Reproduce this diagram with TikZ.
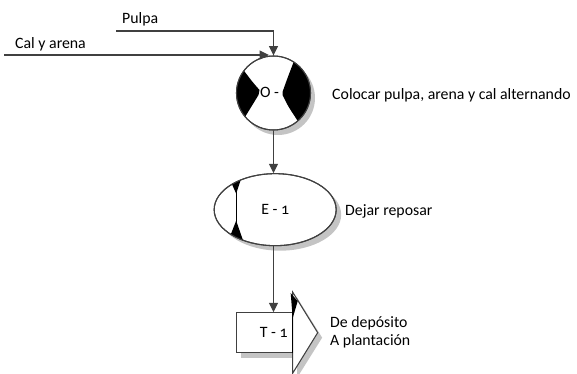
\documentclass[tikz,border=0pt]{standalone}
\usepackage{fontspec}
\setmainfont{Carlito}[Numbers=OldStyle]
\usetikzlibrary{positioning,calc,arrows.meta,shapes.geometric}
\definecolor{linegray}{HTML}{404040}
\definecolor{shadegray}{HTML}{C4C4C4}

\begin{document}
\begin{tikzpicture}[x=0.03cm,y=-0.03cm,node distance=0.2cm,on grid,
  flow/.style={draw=linegray,line width=1pt,-{Triangle[length=0.28cm,width=0.27cm]}},
  box/.style={draw=linegray,line width=0.9pt,fill=white,inner sep=0pt},
  txt/.style={anchor=west,align=left,inner sep=0pt}]
\useasboundingbox (0,0) rectangle (577,374);
\tikzset{every node/.append style={font=\fontsize{13.5}{15.5}\selectfont}}
% operacion
\fill[shadegray] (278,98) circle (1.11cm);
\node[box,circle,minimum size=2.22cm](q_o) at (273.5,93){};
\begin{scope}[shift={(q_o.center)}]
\fill[black] (217:37) .. controls (-21,-11) .. (-14,-3) -- (-15,2) .. controls (-22,12) .. (140:37) arc (140:217:37);
\fill[black] (-57:37) .. controls (14,-15) .. (9,-1) -- (9,2) .. controls (15,14) .. (49:37) arc (49:-57:37);
\end{scope}
\draw[linegray,line width=0.9pt] (q_o.center) circle (1.11cm);
\node(o_lbl) at ($(q_o.center)+(-4,-1)$){O -};
% inspeccion
\node[coordinate](q_e0)[below=3.5cm of q_o,xshift=0.05cm]{};
\fill[shadegray] ($(q_e0)+(5,5)$) ellipse [x radius=1.83cm,y radius=1.08cm];
\node[box,ellipse,minimum width=3.66cm,minimum height=2.16cm](q_e) at (q_e0){E - 1};
\begin{scope}
\clip (q_e.center) ellipse [x radius=1.83cm,y radius=1.08cm];
\fill[black] ($(q_e.center)+(-47,-34)$) -- ($(q_e.center)+(-33,-34)$) -- ($(q_e.center)+(-39,-16)$) -- cycle;
\fill[black] ($(q_e.center)+(-48,34)$) -- ($(q_e.center)+(-31,34)$) -- ($(q_e.center)+(-39,11)$) -- cycle;
\end{scope}
\draw[black,line width=0.8pt] ($(q_e.center)+(-39,-28)$) -- ($(q_e.center)+(-39,28)$);
\draw[linegray,line width=0.9pt] (q_e.center) ellipse [x radius=1.83cm,y radius=1.08cm];
% transporte
\node[coordinate](q_t0)[below=3.69cm of q_e,xshift=-0.33cm]{};
\fill[shadegray] ($(q_t0)+(-23,-15)$) rectangle ($(q_t0)+(33,25)$);
\fill[shadegray] ($(q_t0)+(33,-35)$) -- ($(q_t0)+(58,5)$) -- ($(q_t0)+(33,45)$) -- cycle;
\node[box,rectangle,minimum width=1.68cm,minimum height=1.2cm](q_t) at (q_t0){};
\fill[white,draw=linegray,line width=0.9pt] (q_t.north east) -- ++(0,-20) -- ($(q_t.east)+(25,0)$) -- ($(q_t.south east)+(0,20)$) -- cycle;
\fill[black] ($(q_t.north east)+(-2,-19)$) -- ($(q_t.north east)+(5,-11)$) -- ($(q_t.north east)+(0,6)$) -- cycle;
\draw[black,line width=0.8pt] (q_t.north east) -- (q_t.south east);
\node(t_lbl)[anchor=east] at ($(q_t.east)+(-1,0)$){T - 1};
% textos
\node[txt](l_o) at (332,95){Colocar pulpa, arena y cal alternando};
\node[txt](l_e) at (345,211){Dejar reposar};
\node[txt](l_t) at (330,332){De depósito\\A plantación};
\node[txt](l_p) at (122,19){Pulpa};
\node[txt](l_c) at (15,44){Cal y arena};
\node[coordinate](p_in) at (116,31){};
\node[coordinate](c_in) at (4,55){};
% flechas
\draw[flow] (p_in) -| (q_o.north);
\draw[flow,shorten >=0.14cm] (c_in) -- (c_in -| q_o.north);
\draw[flow] (q_o.south) -- (q_o.south |- q_e.north);
\draw[flow] (q_o.south |- q_e.south) -- (q_o.south |- q_t.north);
\end{tikzpicture}
\end{document}
